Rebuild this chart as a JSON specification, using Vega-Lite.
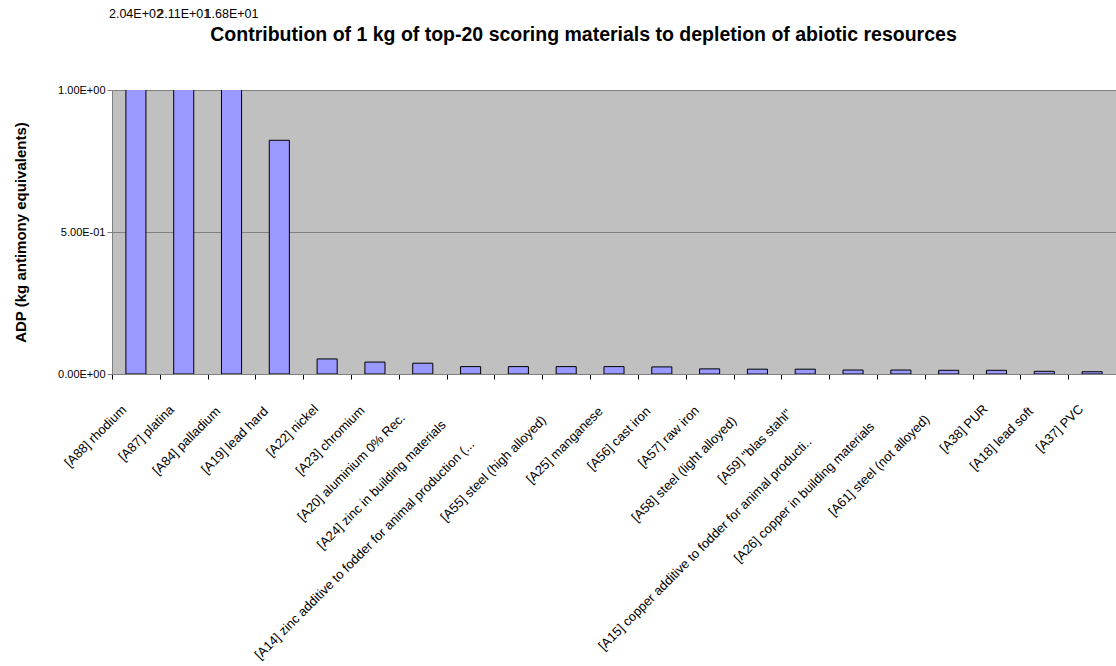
{
  "$schema": "https://vega.github.io/schema/vega-lite/v6.json",
  "autosize": {"type": "none"},
  "padding": {"left": 112, "top": 90, "right": 0, "bottom": 292},
  "width": 1004,
  "height": 284,
  "background": "white",
  "config": {
    "font": "Liberation Sans",
    "view": {"fill": "#C0C0C0", "stroke": null}
  },
  "data": {
    "values": [
      {"material": "[A88] rhodium", "adp": 204},
      {"material": "[A87] platina", "adp": 21.1},
      {"material": "[A84] palladium", "adp": 16.8},
      {"material": "[A19] lead hard", "adp": 0.823},
      {"material": "[A22] nickel", "adp": 0.053},
      {"material": "[A23] chromium", "adp": 0.042},
      {"material": "[A20] aluminium 0% Rec.", "adp": 0.038},
      {"material": "[A24] zinc in building materials", "adp": 0.026},
      {"material": "[A14] zinc additive to fodder for animal production (...", "adp": 0.026},
      {"material": "[A55] steel (high alloyed)", "adp": 0.026},
      {"material": "[A25] manganese", "adp": 0.026},
      {"material": "[A56] cast iron", "adp": 0.025},
      {"material": "[A57] raw iron", "adp": 0.018},
      {"material": "[A58] steel (light alloyed)", "adp": 0.017},
      {"material": "[A59] \"blas stahl\"", "adp": 0.017},
      {"material": "[A15] copper additive to fodder for animal producti..", "adp": 0.014},
      {"material": "[A26] copper in building materials", "adp": 0.014},
      {"material": "[A61] steel (not alloyed)", "adp": 0.013},
      {"material": "[A38] PUR", "adp": 0.013},
      {"material": "[A18] lead soft", "adp": 0.0095},
      {"material": "[A37] PVC", "adp": 0.008}
    ]
  },
  "resolve": {"axis": {"x": "independent"}},
  "layer": [
    {
      "mark": {"type": "bar", "clip": true, "fill": "#9999FF", "stroke": "black", "strokeWidth": 1, "width": {"band": 0.42}},
      "encoding": {
        "x": {
          "field": "material",
          "type": "nominal",
          "sort": null,
          "scale": {"paddingInner": 0, "paddingOuter": 0},
          "axis": {
            "title": null,
            "labels": false,
            "tickBand": "extent",
            "tickSize": 5,
            "tickColor": "black",
            "domainColor": "#808080",
            "grid": false
          }
        },
        "y": {
          "field": "adp",
          "type": "quantitative",
          "scale": {"domain": [0, 1], "nice": false},
          "axis": {
            "title": "ADP (kg antimony equivalents)",
            "titleFontSize": 15,
            "titleFontWeight": "bold",
            "titleColor": "black",
            "titlePadding": 29,
            "values": [0, 0.5, 1],
            "labelExpr": "replace(replace(format(datum.value, '.2e'), 'e+', 'E+0'), 'e-', 'E-0')",
            "labelFontSize": 11,
            "labelColor": "black",
            "labelPadding": 2,
            "tickSize": 5,
            "tickColor": "#808080",
            "domainColor": "#808080",
            "gridColor": "#808080",
            "gridOpacity": 1,
            "grid": true
          }
        }
      }
    },
    {
      "transform": [
        {"filter": "datum.adp > 1"},
        {"calculate": "replace(replace(format(datum.adp, '.2e'), 'e+', 'E+0'), 'e-', 'E-0')", "as": "label"}
      ],
      "mark": {"type": "text", "fontSize": 12.5, "color": "black", "baseline": "middle", "align": "center", "dy": -76},
      "encoding": {
        "x": {
          "field": "material",
          "type": "nominal",
          "sort": null,
          "axis": {
            "orient": "top",
            "title": "Contribution of 1 kg of top-20 scoring materials to depletion of abiotic resources",
            "titleFont": "Liberation Sans",
            "titleFontSize": 19.5,
            "titleFontWeight": "bold",
            "titleColor": "black",
            "titleBaseline": "bottom",
            "titlePadding": 46,
            "titleX": 471,
            "labels": false,
            "ticks": false,
            "domain": false,
            "grid": false
          }
        },
        "y": {"datum": 1},
        "text": {"field": "label"}
      }
    },
    {
      "mark": {
        "type": "text",
        "fontSize": 13,
        "color": "black",
        "angle": 315,
        "align": "right",
        "baseline": "middle",
        "dx": {"expr": "-31 - 1.13 * max(0, length(datum.material) - 12)"},
        "dy": 15.6
      },
      "encoding": {
        "x": {"field": "material", "type": "nominal", "sort": null, "axis": null},
        "y": {"datum": 0},
        "text": {"field": "material"}
      }
    }
  ]
}
